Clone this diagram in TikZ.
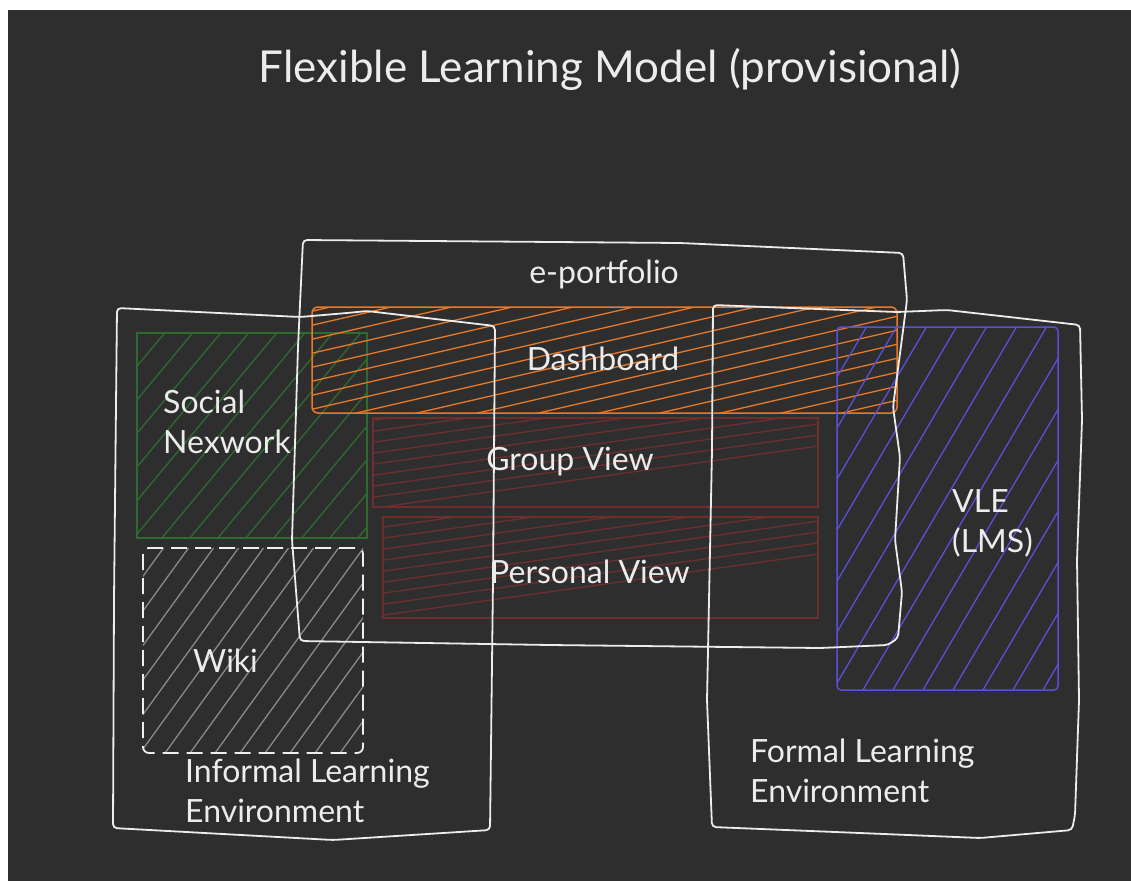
\documentclass[tikz,border=0pt]{standalone}
\usepackage{fontspec}
\setmainfont{Lato}
\usepackage{tikz}
\definecolor{board}{HTML}{2E2E2E}
\definecolor{chalk}{HTML}{ECECEC}
\definecolor{orng}{HTML}{E8782A}
\definecolor{wine}{HTML}{6E2E2E}
\definecolor{leaf}{HTML}{2F6B30}
\definecolor{vle}{HTML}{5A50D8}
\definecolor{wikiGray}{HTML}{8A8A8A}
\tikzset{
  lab/.style={text=chalk, font=\fontsize{32}{40}\selectfont, inner sep=0pt},
  ttl/.style={text=chalk, font=\fontsize{44}{50}\selectfont, inner sep=0pt},
  frame/.style={draw=chalk, line width=1.8pt, rounded corners=4pt},
  hatchLine/.style={line width=1.3pt}
}
\begin{document}
\begin{tikzpicture}[x=1pt,y=-1pt]
  \useasboundingbox (0,0) rectangle (1131,881);
  \fill[white] (0,0) rectangle (1131,881);
  \fill[board] (8,10) rectangle (1131,881);

  \node[ttl, anchor=base] (title) at (610,82) {Flexible Learning Model (provisional)};

  \begin{scope}
    \clip (137,333) rectangle (367,538);
    \foreach \k in {0,...,15} \draw[leaf, hatchLine] (-40+28*\k,545) -- ++(200,-240);
  \end{scope}
  \draw[leaf, hatchLine] (137,333) rectangle (367,538);

  \begin{scope}
    \clip (143,548) rectangle (363,753);
    \foreach \k in {0,...,16} \draw[wikiGray, hatchLine] (-15+25*\k,760) -- ++(160,-221);
  \end{scope}
  \draw[chalk!85, line width=1.8pt, dash pattern=on 16pt off 8pt, rounded corners=6pt] (143,548) rectangle (363,753);

  \begin{scope}
    \clip (373,418) rectangle (818,507);
    \foreach \k in {0,...,14} \draw[wine, hatchLine] (360,356+11*\k) -- ++(480,-67);
  \end{scope}
  \draw[wine, hatchLine] (373,418) rectangle (818,507);

  \begin{scope}
    \clip (383,517) rectangle (818,618);
    \foreach \k in {0,...,15} \draw[wine, hatchLine] (370,452+11*\k) -- ++(470,-66);
  \end{scope}
  \draw[wine, hatchLine] (383,517) rectangle (818,618);

  \begin{scope}
    \clip[rounded corners=6pt] (312,307) rectangle (897,413);
    \foreach \k in {0,...,18} \draw[orng, hatchLine] (300,300+14*\k) -- ++(620,-143);
  \end{scope}
  \draw[orng, line width=1.5pt, rounded corners=6pt] (312,307) rectangle (897,413);

  \begin{scope}
    \clip (837,327) rectangle (1058,690);
    \foreach \k in {0,...,15} \draw[vle, hatchLine] (620+30*\k,695) -- ++(230,-391);
  \end{scope}
  \draw[vle, line width=1.5pt, rounded corners=4pt] (837,327) rectangle (1058,690);

  \draw[frame] (303,240) -- (680,243) -- (903,253) -- (907,300) -- (893,407) -- (900,457)
    -- (895,540) -- (902,592) -- (898,638) -- (888,645) -- (820,648) -- (550,645)
    -- (300,641) -- (292,540) -- (298,347) -- cycle;
  \draw[frame] (117,308) -- (300,317) -- (347,313) -- (367,311) -- (495,326) -- (493,580)
    -- (490,830) -- (333,840) -- (113,828) -- (114,600) -- cycle;
  \draw[frame] (713,305) -- (897,312) -- (947,310) -- (1080,325) -- (1082,420) -- (1077,560)
    -- (1079,700) -- (1075,815) -- (1072,830) -- (980,838) -- (860,833) -- (712,827)
    -- (707,700) -- (712,450) -- cycle;

  \node[lab, anchor=base] (eport) at (604,283) {e-portfolio};
  \node[lab, anchor=base] (dash) at (603,370) {Dashboard};
  \node[lab, anchor=base] (group) at (570,470) {Group View};
  \node[lab, anchor=base] (personal) at (590,583) {Personal View};
  \node[lab, anchor=base west, align=left] (social) at (163,453) {Social\\Nexwork};
  \node[lab, anchor=base west] (wiki) at (193,672) {Wiki};
  \node[lab, anchor=base west, align=left] (informal) at (185,822) {Informal Learning\\Environment};
  \node[lab, anchor=base west, align=left] (formal) at (750,802) {Formal Learning\\Environment};
  \node[lab, anchor=base west, align=left] (vlebox) at (952,552) {VLE\\(LMS)};
\end{tikzpicture}
\end{document}
